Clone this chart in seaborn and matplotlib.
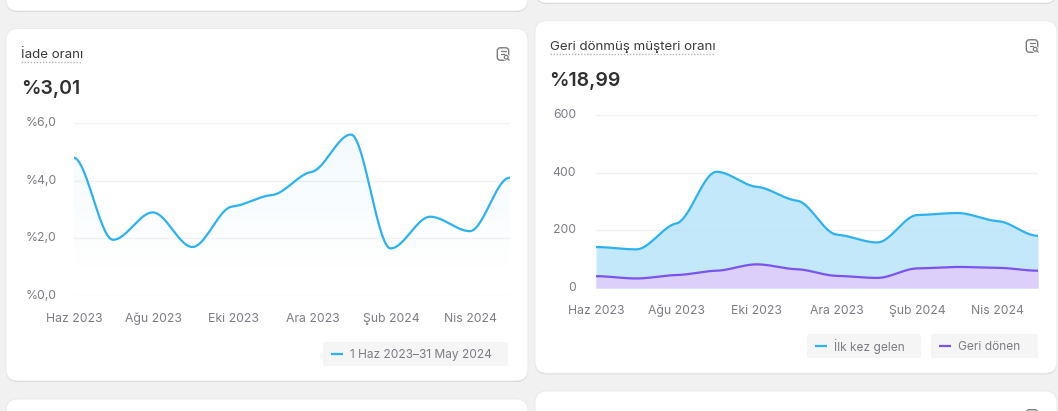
import numpy as np
import pandas as pd
import matplotlib
matplotlib.use('Agg')
import matplotlib.pyplot as plt
import seaborn as sns
from matplotlib.patches import FancyBboxPatch
from matplotlib.transforms import ScaledTranslation

# monthly values
aylar = ['Haz 2023', 'Tem 2023', 'Ağu 2023', 'Eyl 2023', 'Eki 2023', 'Kas 2023',
         'Ara 2023', 'Oca 2024', 'Şub 2024', 'Mar 2024', 'Nis 2024', 'May 2024']
iade_orani = [4.8, 1.95, 2.9, 1.7, 3.1, 3.5, 4.3, 5.6, 1.65, 2.75, 2.25, 4.1]
ilk_kez = [142, 134, 224, 403, 351, 303, 185, 158, 253, 260, 232, 181]
geri_donen = [41, 33, 45, 60, 82, 65, 42, 35, 68, 73, 70, 60]
sol_yticks = [0, 2, 4, 6]
sol_ylabels = ['%0,0', '%2,0', '%4,0', '%6,0']
sag_yticks = [0, 200, 400, 600]

W, H = 1058, 411
MAVI = '#2bb2ef'
MOR = '#7b52ee'
GRI = '#7c7c84'
KOYU = '#3a3a3a'

sns.set_theme(style='white')
plt.rcParams['font.family'] = ['Inter', 'DejaVu Sans']

fig = plt.figure(figsize=(W / 100, H / 100), dpi=100, facecolor='#f1f1f1')
bg = fig.add_axes([0, 0, 1, 1])
bg.set_xlim(0, W)
bg.set_ylim(H, 0)
bg.axis('off')


def kart(x0, y0, x1, y1):
    # soft bottom shadow, then the white card
    bg.add_patch(FancyBboxPatch((x0 + 12, y0 + 13), x1 - x0 - 24, y1 - y0 - 24,
                                boxstyle='round,pad=12,rounding_size=12',
                                fc='#d2d2d2', ec='none'))
    bg.add_patch(FancyBboxPatch((x0 + 12, y0 + 12), x1 - x0 - 24, y1 - y0 - 24,
                                boxstyle='round,pad=12,rounding_size=12',
                                fc='white', ec='#e9e9e9', lw=0.6))


def ikon(x, y):
    # small report icon at the top right of the card
    c = '#7a7a7a'
    bg.add_patch(FancyBboxPatch((x - 4.5, y - 5), 9, 10, boxstyle='round,pad=1.2,rounding_size=3',
                                fc='white', ec=c, lw=1))
    bg.plot([x - 2.5, x + 3], [y - 2.5, y - 2.5], color=c, lw=0.9)
    bg.plot([x - 2.5, x + 0.5], [y + 0.5, y + 0.5], color=c, lw=0.9)
    bg.add_patch(plt.Circle((x + 3.5, y + 3.5), 3.4, fc='white', ec='none'))
    bg.add_patch(plt.Circle((x + 3.2, y + 3.2), 1.9, fc='none', ec=c, lw=0.9))
    bg.plot([x + 4.6, x + 6.2], [y + 4.6, y + 6.2], color=c, lw=0.9)


def baslik(x, y, metin, genislik, deger, deger_y):
    bg.text(x, y + 1.5, metin, fontsize=9.6, color=KOYU, va='center', ha='left')
    bg.plot([x, x + genislik], [y + 8.5, y + 8.5], color='#b4b4b4', lw=1, ls=(0, (1, 1.2)))
    bg.text(x, deger_y + 1.5, deger, fontsize=14, color='#303030', va='center', ha='left',
            fontweight='semibold')


def legend_kutu(x0, x1, y0, y1, renk, metin):
    bg.add_patch(FancyBboxPatch((x0 + 2, y0 + 2), x1 - x0 - 4, y1 - y0 - 4,
                                boxstyle='round,pad=2,rounding_size=2', fc='#f5f5f6', ec='none'))
    bg.plot([x0 + 8, x0 + 20], [(y0 + y1) / 2] * 2, color=renk, lw=1.6, solid_capstyle='butt')
    bg.text(x0 + 27, (y0 + y1) / 2 + 0.5, metin, fontsize=8.6, color=GRI, va='center', ha='left')


def yumusat(x, y, gerilim=0.22):
    # monotone cubic with short tangents: flat shoulders at each month like the original
    x = np.asarray(x, dtype=float)
    y = np.asarray(y, dtype=float)
    s = np.diff(y) / np.diff(x)
    m = np.zeros(len(y))
    for i in range(1, len(y) - 1):
        if s[i - 1] * s[i] > 0:
            m[i] = gerilim * 2 * s[i - 1] * s[i] / (s[i - 1] + s[i])
    xs, ys = [], []
    for i in range(len(x) - 1):
        t = np.linspace(0, 1, 40)
        h = x[i + 1] - x[i]
        ys.append((2 * t**3 - 3 * t**2 + 1) * y[i] + (t**3 - 2 * t**2 + t) * h * m[i]
                  + (-2 * t**3 + 3 * t**2) * y[i + 1] + (t**3 - t**2) * h * m[i + 1])
        xs.append(x[i] + t * h)
    return np.concatenate(xs), np.concatenate(ys)


def eksen(x0, x1, y_ust, y_alt, ymax, yticks, ylabels, tick_x, y_pad):
    ax = fig.add_axes([x0 / W, 1 - y_alt / H, (x1 - x0) / W, (y_alt - y_ust) / H])
    ax.patch.set_alpha(0)
    ax.set_xlim(0, 11)
    ax.set_ylim(0, ymax)
    ax.set_yticks(yticks)
    ax.set_yticklabels(ylabels)
    ax.set_xticks([0, 2, 4, 6, 8, 10])
    ax.set_xticklabels(tick_x)
    ax.tick_params(length=0, labelsize=8.8, labelcolor=GRI)
    ax.tick_params(axis='x', pad=12)
    ax.tick_params(axis='y', pad=y_pad)
    ax.grid(axis='y', color='#f1f1f2', lw=1)
    ax.grid(axis='x', visible=False)
    ax.set_axisbelow(True)
    sns.despine(ax=ax, left=True, bottom=True)
    # the y labels sit a little above their gridline
    yukari = ScaledTranslation(0, 1.2 / 72, fig.dpi_scale_trans)
    for t in ax.get_yticklabels():
        t.set_transform(t.get_transform() + yukari)
    return ax


kart(6, -30, 528, 11)
kart(6, 28.5, 528, 381)
kart(6, 399, 528, 460)
kart(535, -40, 1057, 3)
kart(535, 20.7, 1057, 373.3)
kart(535, 391, 1057, 460)

baslik(21, 53.5, 'İade oranı', 61, '%3,01', 87)
baslik(549.5, 45.5, 'Geri dönmüş müşteri oranı', 165, '%18,99', 79)
ikon(503, 54)
ikon(1032, 46)
ikon(1032, 416)

tick_etiket = [aylar[i] for i in [0, 2, 4, 6, 8, 10]]

# left chart
ax1 = eksen(73.5, 509.5, 123, 296, 6, sol_yticks, sol_ylabels, tick_etiket, 12)
ay_no = np.arange(12)
x1, y1 = yumusat(ay_no, iade_orani)
df1 = pd.DataFrame({'ay': x1, 'oran': y1})
dolgu = ax1.fill_between(x1, y1, 0, color='none')
renk = np.zeros((256, 1, 4))
renk[..., :3] = matplotlib.colors.to_rgb('#3fb6ee')
renk[..., 3] = np.linspace(1, 0, 256).reshape(-1, 1) ** 1.2 * 0.07
im = ax1.imshow(renk, extent=[0, 11, 0.5, 5.7], aspect='auto', zorder=1, origin='upper')
im.set_clip_path(dolgu.get_paths()[0], transform=ax1.transData)
ax1.set_xlim(0, 11)
ax1.set_ylim(0, 6)
sns.lineplot(data=df1, x='ay', y='oran', ax=ax1, color=MAVI, lw=1.6, zorder=3)
ax1.set_xlabel('')
ax1.set_ylabel('')

# right chart
ax2 = eksen(596, 1038, 115, 288, 600, sag_yticks, [str(v) for v in sag_yticks], tick_etiket, 14.4)
x2, y2 = yumusat(ay_no, ilk_kez)
x3, y3 = yumusat(ay_no, geri_donen)
ax2.fill_between(x2, y2, 0, color='#b3e2f9', alpha=0.78, lw=0, zorder=1)
ax2.fill_between(x3, y3, 0, color='#dcd0fa', lw=0, zorder=2)
df2 = pd.DataFrame({'ay': x2, 'musteri': y2})
df3 = pd.DataFrame({'ay': x3, 'musteri': y3})
sns.lineplot(data=df2, x='ay', y='musteri', ax=ax2, color=MAVI, lw=1.6, zorder=3)
sns.lineplot(data=df3, x='ay', y='musteri', ax=ax2, color=MOR, lw=1.6, zorder=3)
ax2.set_xlabel('')
ax2.set_ylabel('')

# left chart month labels sit a bit to the right of their ticks
saga = ScaledTranslation(0.8 / 72, 0, fig.dpi_scale_trans)
for t in ax1.get_xticklabels():
    t.set_transform(t.get_transform() + saga)

legend_kutu(323, 508, 342, 366, MAVI, '1 Haz 2023–31 May 2024')
legend_kutu(807, 921, 334, 358, MAVI, 'İlk kez gelen')
legend_kutu(931, 1038, 334, 358, MOR, 'Geri dönen')

fig.savefig('out.png', dpi=100, facecolor=fig.get_facecolor())
